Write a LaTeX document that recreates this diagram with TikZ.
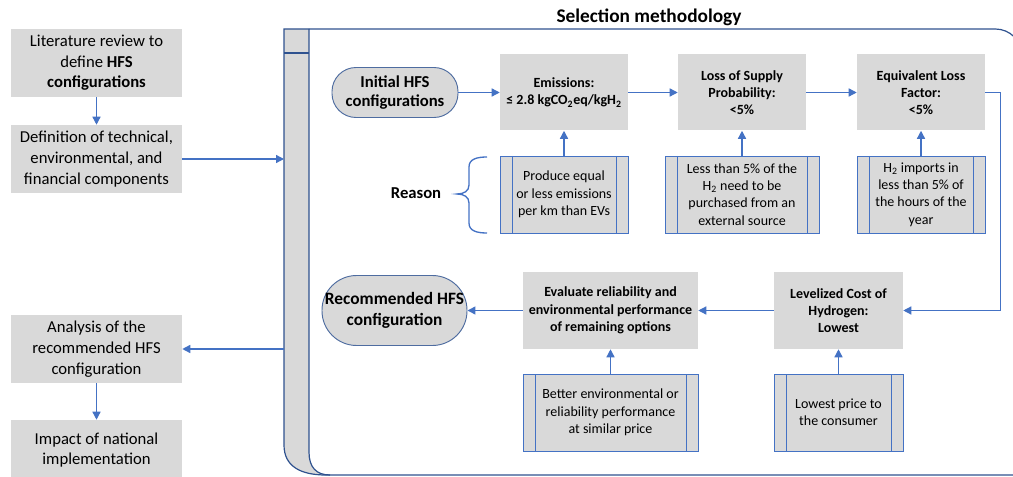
\documentclass[tikz,border=0pt]{standalone}
\usepackage{fontspec}
\setmainfont{Carlito}
\usetikzlibrary{arrows.meta,positioning}
\definecolor{hfsblue}{RGB}{68,114,196}
\definecolor{laneblue}{RGB}{47,82,143}
\definecolor{boxgray}{RGB}{217,217,217}
\tikzset{
  stage/.style={fill=boxgray,minimum width=128.25pt,minimum height=51pt,align=center,inner sep=2pt,font=\fontsize{12.5}{15.5}\selectfont},
  crit/.style={fill=boxgray,minimum width=96pt,minimum height=57pt,align=center,inner sep=2pt,font=\bfseries\fontsize{10.5}{13}\selectfont},
  reason/.style={draw=hfsblue,line width=0.7pt,fill=boxgray,minimum width=96pt,minimum height=57.75pt,align=center,inner sep=2pt,font=\fontsize{10.5}{13}\selectfont,
    path picture={\draw[hfsblue,line width=0.7pt]
      ([xshift=9pt]path picture bounding box.north west) -- ([xshift=9pt]path picture bounding box.south west)
      ([xshift=-9pt]path picture bounding box.north east) -- ([xshift=-9pt]path picture bounding box.south east);}},
  term/.style={rectangle,rounded corners=#1,draw=laneblue!85,line width=0.7pt,fill=boxgray,align=center,inner sep=1pt,font=\bfseries\fontsize{12.5}{14}\selectfont},
  arr/.style={-{Triangle[length=6pt,width=6pt]},draw=hfsblue,line width=1pt},
  lane/.style={draw=laneblue,line width=0.9pt}
}
\begin{document}
\begin{tikzpicture}[x=0.75pt,y=-0.75pt]
  \useasboundingbox (0,0) rectangle (1013,477);
  \clip (0,0) rectangle (1013,477);

  % swimlane frame
  \fill[boxgray] (284,29) -- (309,29) -- (309,452) .. controls (309,467) and (316,475) .. (330,475)
    -- (326,475) .. controls (300,475) and (284,466) .. (284,445) -- cycle;
  \draw[lane] (309,29) -- (284,29) -- (284,445) .. controls (284,466) and (300,475) .. (326,475) -- (1030,475);
  \draw[lane] (284,53) -- (309,53);
  \draw[lane] (309,29) -- (309,452) .. controls (309,467) and (316,475) .. (330,475);
  \draw[lane,rounded corners=20] (309,29) -- (1022,29) -- (1022,490);
  \node[font=\bfseries\fontsize{14.5}{17}\selectfont] (title) at (649,17) {Selection methodology};

  % left column
  \node[stage] (lit) at (96.5,63) {Literature review to\\define \textbf{HFS}\\\textbf{configurations}};
  \node[stage] (defn) at (96.5,159) {Definition of technical,\\environmental, and\\financial components};
  \node[stage] (anal) at (96.5,349) {Analysis of the\\recommended HFS\\configuration};
  \node[stage,minimum height=45pt] (impact) at (96.5,450) {Impact of national\\implementation};
  \coordinate (laneIn) at (284,159);
  \coordinate (laneOut) at (284,349);
  \draw[arr] (lit) -- (defn);
  \draw[arr] (anal) -- (impact);
  \draw[arr] (defn.east) -- (laneIn);
  \draw[arr] (laneOut) -- (anal.east);

  % criteria
  \node[term=18pt,minimum width=94.5pt,minimum height=37.5pt] (init) at (395,92.5) {Initial HFS\\configurations};
  \node[crit] (emis) at (564,92.5) {Emissions:\\≤ 2.8 kgCO\textsubscript{2}eq/kgH\textsubscript{2}};
  \node[crit] (lsp) at (742,92.5) {Loss of Supply\\Probability:\\<5\%};
  \node[crit] (elf) at (921,92.5) {Equivalent Loss\\Factor:\\<5\%};
  \node[reason] (rEmis) at (564,194.5) {Produce equal\\or less emissions\\per km than EVs};
  \node[reason,minimum width=115.5pt] (rLsp) at (742,194.5) {Less than 5\% of the\\H\textsubscript{2} need to be\\purchased from an\\external source};
  \node[reason] (rElf) at (921,194.5) {H\textsubscript{2} imports in\\less than 5\% of\\the hours of the\\year};
  \node[font=\bfseries\fontsize{12.5}{15}\selectfont] (why) at (416,193) {Reason};
  \draw[hfsblue,line width=1pt] (487,157) .. controls (477,157) and (469,159) .. (469,167) -- (469,185)
    .. controls (469,191) and (464,194) .. (457,194) .. controls (464,194) and (469,197) .. (469,203)
    -- (469,223) .. controls (469,231) and (477,233) .. (487,233);
  \draw[arr] (init) -- (emis);
  \draw[arr] (emis) -- (lsp);
  \draw[arr] (lsp) -- (elf);
  \draw[arr] (rEmis) -- (emis);
  \draw[arr] (rLsp) -- (lsp);
  \draw[arr] (rElf) -- (elf);

  % selection
  \node[term=26pt,minimum width=108.75pt,minimum height=52.5pt,font=\bfseries\fontsize{13}{15.5}\selectfont] (rec) at (394.5,310.5) {Recommended HFS\\configuration};
  \node[crit,minimum width=131.25pt,minimum height=57.75pt] (eval) at (610.5,310.5) {Evaluate reliability and\\environmental performance\\of remaining options};
  \node[crit,minimum width=96.75pt,minimum height=57.75pt] (lcoh) at (838.5,310.5) {Levelized Cost of\\Hydrogen:\\Lowest};
  \node[reason,minimum width=131.25pt] (rEval) at (610.5,412.5) {Better environmental or\\reliability performance\\at similar price};
  \node[reason,minimum width=96.75pt] (rLcoh) at (838.5,412.5) {Lowest price to\\the consumer};
  \draw[arr] (elf.east) -- ++(15,0) |- (lcoh.east);
  \draw[arr] (lcoh) -- (eval);
  \draw[arr] (eval) -- (rec);
  \draw[arr] (rEval) -- (eval);
  \draw[arr] (rLcoh) -- (lcoh);
\end{tikzpicture}
\end{document}
